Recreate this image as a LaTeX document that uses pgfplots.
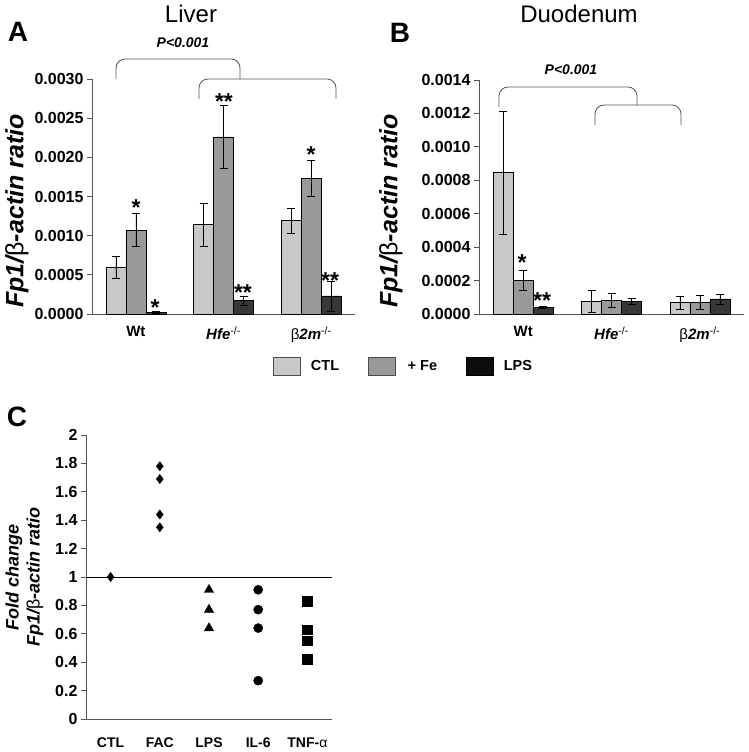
\documentclass[border=0pt]{standalone}
\usepackage{pgfplots}
\pgfplotsset{compat=1.18}
\usepackage{fontspec}
\setmainfont{Liberation Sans}
\definecolor{cctl}{HTML}{C8C8C8}
\definecolor{cfe}{HTML}{999999}
\definecolor{clps}{HTML}{383838}
\definecolor{axgray}{HTML}{555555}
\newcommand{\fs}[1]{\fontsize{#1}{#1}\selectfont}
\newcommand{\ylab}{{\bfseries\itshape Fp1/}{\normalfont β}{\bfseries\itshape -actin ratio}}

\pgfplotsset{
 barax/.style={
  scale only axis, anchor=south west,
  ybar=0pt, bar width=20pt,
  xmin=-0.5, xmax=2.5, ymin=0,
  axis x line*=bottom, axis y line*=left,
  axis line style={-, axgray, line width=0.8pt},
  xtick={0,1,2},
  xticklabels={Wt, {\itshape Hfe}\textsuperscript{\normalfont -/-}, {\normalfont β}{\itshape 2m}\textsuperscript{\normalfont -/-}},
  x tick style={draw=none},
  y tick style={axgray, line width=0.8pt},
  tick align=outside, major tick length=5pt,
  scaled y ticks=false,
  yticklabel style={font=\fs{16}\bfseries, /pgf/number format/fixed, /pgf/number format/fixed zerofill, /pgf/number format/precision=4, /pgf/number format/assume math mode=true},
  xticklabel style={font=\fs{15}\bfseries, yshift=-4pt},
  error bars/y dir=both, error bars/y explicit,
  error bars/error bar style={black, line width=0.6pt},
  error bars/error mark options={rotate=90, mark size=4pt, line width=0.6pt, black},
  clip=false,
 },
 bctl/.style={fill=cctl, draw=black, line width=0.6pt, legend image code/.code={\draw[fill=cctl,draw=black!70,line width=0.6pt] (0pt,-9pt) rectangle (27pt,9pt);}},
 bfe/.style={fill=cfe, draw=black, line width=0.6pt, legend image code/.code={\draw[fill=cfe,draw=black!70,line width=0.6pt] (0pt,-9pt) rectangle (27pt,9pt);}},
 blps/.style={fill=clps, draw=black, line width=0.6pt, legend image code/.code={\draw[fill=black!95,draw=black,line width=0.6pt] (0pt,-9pt) rectangle (27pt,9pt);}},
}

\begin{document}
\begin{tikzpicture}
\path[use as bounding box] (0pt,0pt) rectangle (748pt,752pt);

% ---------------- Panel A: Liver ----------------
\begin{axis}[barax, at={(92pt,438pt)}, width=263pt, height=235pt,
  ymax=0.003, ytick={0,0.0005,0.001,0.0015,0.002,0.0025,0.003},
  legend style={at={(axis description cs:1.185,-0.221)}, anchor=center, draw=none, fill=none,
    legend columns=3, font=\fs{14.5}\bfseries},
  ]
\addplot[bctl] coordinates {(0,0.0006) +- (0,0.00014) (1,0.00114) +- (0,0.00027) (2,0.00119) +- (0,0.00016)};
\addplot[bfe] coordinates {(0,0.00107) +- (0,0.00021) (1,0.00226) +- (0,0.0004) (2,0.00173) +- (0,0.00023)};
\addplot[blps] coordinates {(0,0.00002) +- (0,0.00001) (1,0.00017) +- (0,0.00006) (2,0.00023) +- (0,0.00019)};
\legend{\hspace*{8pt}CTL\hspace*{27pt}, \hspace*{10pt}+ Fe\hspace*{27pt}, \hspace*{8pt}LPS}
\end{axis}

% ---------------- Panel B: Duodenum ----------------
\begin{axis}[barax, at={(479pt,438pt)}, width=265pt, height=234pt,
  ymax=0.0014, ytick={0,0.0002,0.0004,0.0006,0.0008,0.001,0.0012,0.0014},
  ]
\addplot[bctl] coordinates {(0,0.000845) +- (0,0.00037) (1,0.000077) +- (0,0.000064) (2,0.000067) +- (0,0.00004)};
\addplot[bfe] coordinates {(0,0.0002) +- (0,0.00006) (1,0.000082) +- (0,0.00004) (2,0.00007) +- (0,0.00004)};
\addplot[blps] coordinates {(0,0.00004) +- (0,0.000005) (1,0.000076) +- (0,0.000017) (2,0.00009) +- (0,0.00003)};
\end{axis}

% ---------------- Panel C ----------------
\begin{axis}[scale only axis, anchor=south west, at={(86pt,33pt)}, width=246pt, height=284pt,
  xmin=-0.5, xmax=4.5, ymin=0, ymax=2,
  axis x line*=bottom, axis y line*=left,
  axis line style={-, axgray, line width=0.8pt},
  xtick={0,1,2,3,4}, xticklabels={CTL,FAC,LPS,IL-6,TNF-{\normalfont α}},
  x tick style={draw=none},
  ytick={0,0.2,0.4,0.6,0.8,1,1.2,1.4,1.6,1.8,2},
  yticklabels={0,0.2,0.4,0.6,0.8,1,1.2,1.4,1.6,1.8,2},
  y tick style={axgray, line width=0.8pt},
  tick align=outside, major tick length=5pt,
  yticklabel style={font=\fs{16}\bfseries},
  xticklabel style={font=\fs{14}\bfseries, yshift=-10pt},
  clip=false,
  ]
\addplot[black, line width=0.7pt] coordinates {(-0.5,1) (4.5,1)};
\addplot[only marks, mark=diamond*, mark size=4.6pt, black] coordinates {(0,1) (1,1.78) (1,1.69) (1,1.44) (1,1.35)};
\addplot[only marks, mark=triangle*, mark size=5.4pt, black] coordinates {(2,0.91) (2,0.77) (2,0.64)};
\addplot[only marks, mark=*, mark size=4.6pt, black] coordinates {(3,0.91) (3,0.77) (3,0.64) (3,0.27)};
\addplot[only marks, mark=square*, mark size=4.8pt, black] coordinates {(4,0.83) (4,0.63) (4,0.55) (4,0.42)};
\end{axis}

% ---------------- Annotations ----------------
\node[font=\fs{24}] at (191pt,738pt) {Liver};
\node[font=\fs{24}] at (579pt,738pt) {Duodenum};
\node[font=\fs{28}\bfseries] at (18pt,720pt) {A};
\node[font=\fs{28}\bfseries] at (400pt,719pt) {B};
\node[font=\fs{28}\bfseries] at (17pt,335pt) {C};
\node[font=\fs{14}\bfseries\itshape] at (183pt,709pt) {P<0.001};
\node[font=\fs{14}\bfseries\itshape] at (571pt,682pt) {P<0.001};
\node[font=\fs{25}, rotate=90] at (17pt,541pt) {\ylab};
\node[font=\fs{25}, rotate=90] at (391pt,541pt) {\ylab};
\node[font=\fs{18}, rotate=90] at (14pt,175pt) {\bfseries\itshape Fold change};
\node[font=\fs{18}, rotate=90] at (35pt,175pt) {\ylab};

% brackets
\draw[axgray, line width=0.8pt, rounded corners=9pt] (116pt,673pt) -- (116pt,693pt) -- (240pt,693pt) -- (240pt,673pt);
\draw[axgray, line width=0.8pt, rounded corners=9pt] (199pt,653pt) -- (199pt,673pt) -- (336pt,673pt) -- (336pt,653pt);
\draw[axgray, line width=0.8pt, rounded corners=9pt] (499pt,645pt) -- (499pt,665pt) -- (637pt,665pt) -- (637pt,647pt);
\draw[axgray, line width=0.8pt, rounded corners=9pt] (595pt,627pt) -- (595pt,647pt) -- (681pt,647pt) -- (681pt,627pt);

% significance stars
\tikzset{star/.style={font=\fs{23}\bfseries, anchor=base, inner sep=0pt}}
\node[star] at (136pt,536.8pt) {*};
\node[star] at (155pt,436.8pt) {*};
\node[star] at (224pt,642.8pt) {**};
\node[star] at (243pt,451.8pt) {**};
\node[star] at (311pt,589.8pt) {*};
\node[star] at (330pt,463.8pt) {**};
\node[star] at (522pt,481.8pt) {*};
\node[star] at (542pt,443.8pt) {**};
\end{tikzpicture}
\end{document}
